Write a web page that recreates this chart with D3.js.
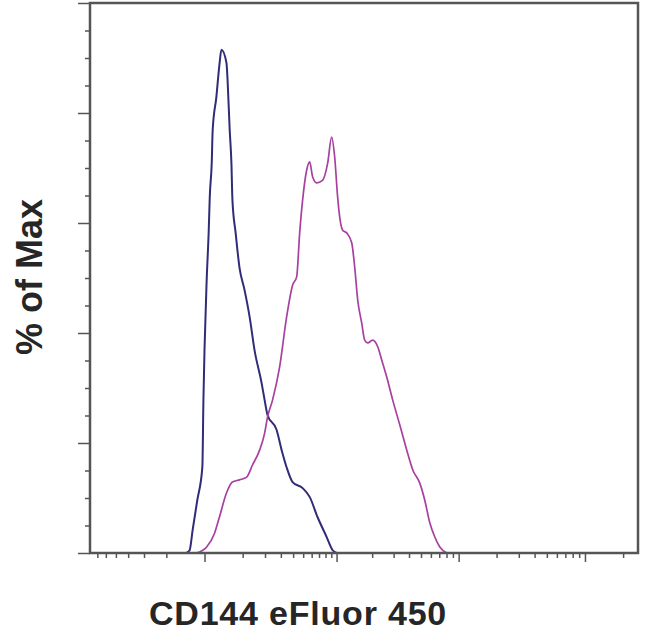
<!DOCTYPE html>
<html><head><meta charset="utf-8">
<script src="https://cdn.jsdelivr.net/npm/d3@7/dist/d3.min.js"></script>
<style>body{margin:0;background:#fff}</style></head>
<body><svg id="c" width="650" height="634"></svg>
<script>
// Isotype control (blue) — intensity vs % of max
const blueX = [-39,-31,-24,-14,-4,-2,0,4,8,10,14,16,24,31,36,49,52,58,63,66,76,89,107,127,148,182,198,214,270,306,344,395,494,575,680,819,925,1002];
const blueY = [0,0.5,4.2,9.6,15.6,27.8,37,49.6,58.7,64.7,70.9,76.9,82.9,88.7,91.5,89.1,86,76.9,70.9,64.2,58.2,51.8,47.8,42.9,36.9,30.9,27.8,25.1,22.4,18.7,15.6,12.9,11.8,10.2,6.5,2.9,0.5,0];
// CD144 eFluor 450 stained (purple)
const purpleX = [-16,4,20,31,49,66,89,115,139,172,198,214,244,291,344,395,433,463,494,539,575,612,666,755,836,906,963,1022,1064,1129,1222,1348,1429,1515,1637,1734,1837,2021,2223,2398,2636,2951,3366,3837,4290,4885,5360,5880,6450,7070,8045];
const purpleY = [0,1.1,3.6,6.5,10.9,12.9,13.3,13.8,16,18.7,21.8,24.7,27.8,33.8,42.9,48.7,50.2,58.2,64.2,69.6,71.1,68.4,67.3,67.8,70.9,75.6,72,64.7,61.1,58.7,58.2,56.4,52,46,41.8,38.7,38.2,38.7,37.5,35.1,32,27.8,23.3,18.7,15.1,12.7,9.6,5.5,2.9,1.1,0];
// axis ticks
const xMajorTicks = [0, 1000, 10000, 100000];
const xMinorTicks = [-600,-500,-400,-300,-200,-100,100,200,300,400,500,600,700,800,900,2000,3000,4000,5000,6000,7000,8000,9000,20000,30000,40000,50000,60000,70000,80000,90000,200000];
const yMajorTicks = [0,20,40,60,80,100];
const yMinorTicks = [5,10,15,25,30,35,45,50,55,65,70,75,85,90,95];
const xLabel = "CD144 eFluor 450";
const yLabel = "% of Max";

const svg = d3.select("#c");
const L = 90, R = 638, T = 3, B = 553;
const x = d3.scaleSymlog().constant(100).domain([-700, 262144]).range([L, R]);
const y = d3.scaleLinear().domain([0, 100]).range([B, T]);

const axisCol = "#555";
const yMaj = d3.axisLeft(y).tickValues(yMajorTicks).tickSize(12).tickFormat("");
const yMin = d3.axisLeft(y).tickValues(yMinorTicks).tickSize(5).tickFormat("");
const xMaj = d3.axisBottom(x).tickValues(xMajorTicks).tickSize(9).tickFormat("");
const xMin = d3.axisBottom(x).tickValues(xMinorTicks).tickSize(5).tickFormat("");
function styleAxis(g){ g.select(".domain").remove(); g.selectAll("line").attr("stroke", axisCol).attr("stroke-width", 1.5); }
svg.append("g").attr("transform", `translate(${L},0)`).call(yMaj).call(styleAxis);
svg.append("g").attr("transform", `translate(${L},0)`).call(yMin).call(styleAxis);
svg.append("g").attr("transform", `translate(0,${B})`).call(xMaj).call(styleAxis);
svg.append("g").attr("transform", `translate(0,${B})`).call(xMin).call(styleAxis);

const line = d3.line().x(d => x(d[0])).y(d => y(d[1])).curve(d3.curveMonotoneX);
svg.append("path").datum(blueX.map((v,i)=>[v, blueY[i]]))
  .attr("d", line).attr("fill","none").attr("stroke","#302c78").attr("stroke-width",2).attr("stroke-linejoin","round");
svg.append("path").datum(purpleX.map((v,i)=>[v, purpleY[i]]))
  .attr("d", line).attr("fill","none").attr("stroke","#a8409f").attr("stroke-width",1.7).attr("stroke-linejoin","round");

// frame
svg.append("rect").attr("x", L).attr("y", T).attr("width", R-L).attr("height", B-T)
  .attr("fill","none").attr("stroke", axisCol).attr("stroke-width", 2.5);

svg.append("text").attr("x", 298).attr("y", 625).attr("text-anchor","middle")
  .attr("font-family","Liberation Sans, Arial, sans-serif").attr("font-weight","bold")
  .attr("font-size", 34).attr("letter-spacing", 0.8).attr("fill","#262626").text(xLabel);
svg.append("text").attr("transform", "translate(42,277) rotate(-90)").attr("text-anchor","middle")
  .attr("font-family","Liberation Sans, Arial, sans-serif").attr("font-weight","bold")
  .attr("font-size", 36).attr("fill","#262626").text(yLabel);
</script></body></html>
